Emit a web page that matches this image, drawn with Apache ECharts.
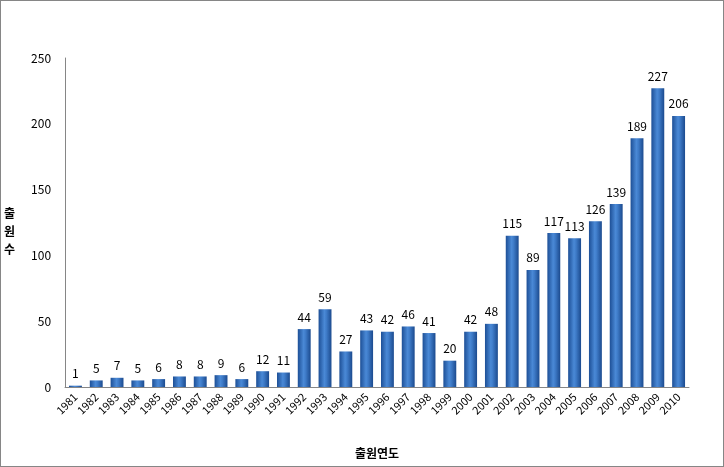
<!DOCTYPE html>
<html><head><meta charset="utf-8">
<script src="https://cdn.jsdelivr.net/npm/echarts@6/dist/echarts.min.js"></script>
<style>html,body{margin:0;padding:0;background:#fff}#c{width:724px;height:467px;box-sizing:border-box;border:1px solid #868686}</style>
</head><body><div id="c"></div>
<script>
const years = ['1981','1982','1983','1984','1985','1986','1987','1988','1989','1990','1991','1992','1993','1994','1995','1996','1997','1998','1999','2000','2001','2002','2003','2004','2005','2006','2007','2008','2009','2010'];
const counts = [1,5,7,5,6,8,8,9,6,12,11,44,59,27,43,42,46,41,20,42,48,115,89,117,113,126,139,189,227,206];
const yTicks = [0,50,100,150,200,250];
const chart = echarts.init(document.getElementById('c'));
const font = "'Noto Sans CJK KR', 'Noto Sans', sans-serif";
chart.setOption({
  animation:false,
  textStyle:{fontFamily:font},
  grid:{left:64,right:34,top:57,bottom:79,containLabel:false},
  xAxis:{type:'category',data:years,
    axisLine:{lineStyle:{color:'#868686'}},axisTick:{show:false},
    axisLabel:{rotate:45,interval:0,color:'#000',fontSize:11,margin:8,fontFamily:font},
    name:'출원연도',nameLocation:'middle',nameGap:60,
    nameTextStyle:{fontWeight:'bold',fontSize:12,color:'#000',fontFamily:font}},
  yAxis:{type:'value',min:yTicks[0],max:yTicks[yTicks.length-1],interval:50,
    axisLine:{show:true,lineStyle:{color:'#868686'}},axisTick:{show:false},splitLine:{show:false},
    axisLabel:{color:'#000',fontSize:12,margin:14,fontFamily:font},
    name:'\n출\n원\n수',nameLocation:'middle',nameRotate:0,nameGap:50,
    nameTextStyle:{fontWeight:'bold',fontSize:12,color:'#000',lineHeight:18,fontFamily:font}},
  series:[{type:'bar',data:counts,barWidth:'62%',
    itemStyle:{color:new echarts.graphic.LinearGradient(0,0,1,0,[
      {offset:0,color:'#1d4f96'},{offset:0.45,color:'#4a89d6'},{offset:0.6,color:'#3f7cc9'},{offset:1,color:'#1b4a8e'}])},
    label:{show:true,position:'top',color:'#000',fontSize:12,distance:6,fontFamily:font}}]
});
</script></body></html>
